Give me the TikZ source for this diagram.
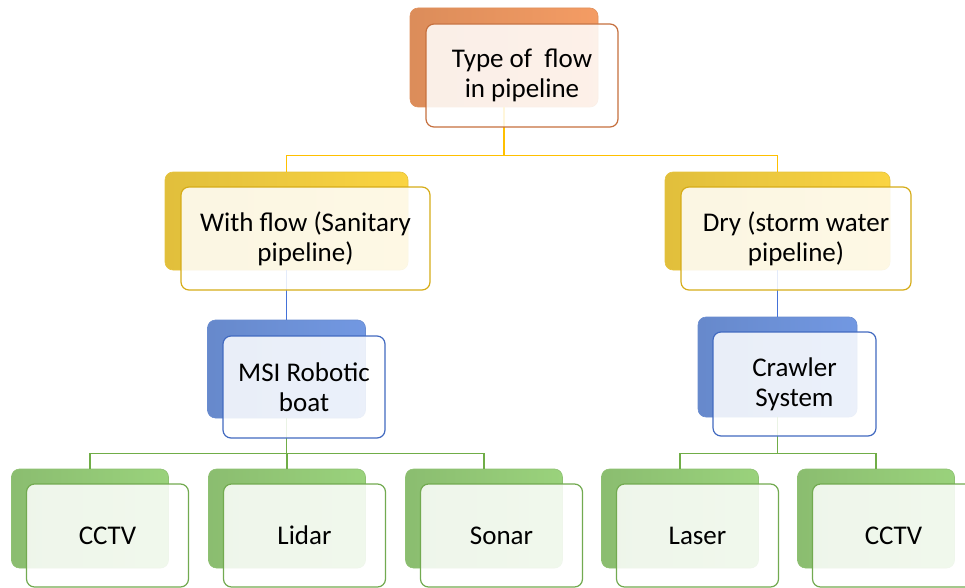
\documentclass[tikz,border=0pt]{standalone}
\usepackage{fontspec}
\setmainfont{Carlito}
\usepackage{xcolor}
\definecolor{flowor}{RGB}{244,156,100}
\definecolor{floworline}{RGB}{198,112,62}
\definecolor{flowyel}{RGB}{250,212,66}
\definecolor{flowyelline}{RGB}{214,172,24}
\definecolor{flowblue}{RGB}{114,152,226}
\definecolor{flowblueline}{RGB}{66,106,192}
\definecolor{flowgreen}{RGB}{154,210,124}
\definecolor{flowgreenline}{RGB}{114,170,80}
\definecolor{linkyel}{RGB}{255,192,0}
\definecolor{linkblue}{RGB}{68,114,216}
\definecolor{linkgreen}{RGB}{112,173,71}
\tikzset{
  backbox/.style={rounded corners=8pt, inner sep=0pt, draw=#1!92!black, line width=0.6pt,
                  left color=#1!90!black, middle color=#1, right color=#1},
  frontbox/.style={rounded corners=8pt, inner sep=0pt, draw=#1, line width=1.2pt,
                   fill=white, fill opacity=0.86, text opacity=1, align=center}
}

\begin{document}
\begin{tikzpicture}[x=1pt, y=-1pt, every node/.style={font=\fontsize{27}{30}\selectfont}]
        \useasboundingbox (0,0) rectangle (965,588);
        \clip (0,0) rectangle (965,588);
        % Back plates
        \node[backbox=flowor, minimum width=188pt, minimum height=99pt] (topback) at (504,57.5) {};
        \node[backbox=flowyel, minimum width=243pt, minimum height=98pt] (wetback) at (286.5,221) {};
        \node[backbox=flowyel, minimum width=225pt, minimum height=98pt] (dryback) at (777.5,221) {};
        \node[backbox=flowblue, minimum width=158pt, minimum height=98pt] (boatback) at (286.5,369) {};
        \node[backbox=flowblue, minimum width=159pt, minimum height=100pt] (crawlback) at (777.5,367) {};
        \node[backbox=flowgreen, minimum width=157pt, minimum height=99pt] (cctvaback) at (90,518.5) {};
        \node[backbox=flowgreen, minimum width=157pt, minimum height=99pt] (lidarback) at (287,518.5) {};
        \node[backbox=flowgreen, minimum width=157pt, minimum height=99pt] (sonarback) at (484,518.5) {};
        \node[backbox=flowgreen, minimum width=157pt, minimum height=99pt] (laserback) at (680,518.5) {};
        \node[backbox=flowgreen, minimum width=157pt, minimum height=99pt] (cctvbback) at (876,518.5) {};
        % Connectors
        \draw[linkyel, line width=1.4pt] (topback.south) -- ++(0,48) -| (wetback.north);
        \draw[linkyel, line width=1.4pt] (topback.south) -- ++(0,48) -| (dryback.north);
        \draw[linkblue, line width=1.4pt] (wetback.south) -- (boatback.north);
        \draw[linkblue, line width=1.4pt] (dryback.south) -- (crawlback.north);
        \draw[linkgreen, line width=1.4pt] (boatback.south) -- ++(0,35) -| (cctvaback.north);
        \draw[linkgreen, line width=1.4pt] (boatback.south) -- ++(0,35) -| (lidarback.north);
        \draw[linkgreen, line width=1.4pt] (boatback.south) -- ++(0,35) -| (sonarback.north);
        \draw[linkgreen, line width=1.4pt] (crawlback.south) -- ++(0,36) -| (laserback.north);
        \draw[linkgreen, line width=1.4pt] (crawlback.south) -- ++(0,36) -| (cctvbback.north);
        % Front cards
        \node[frontbox=floworline, minimum width=192pt, minimum height=103pt] (top) at (522,75.5) {Type of~ flow\\in pipeline};
        \node[frontbox=flowyelline, minimum width=249pt, minimum height=103pt] (wet) at (305.5,238.5) {With flow (Sanitary\\pipeline)};
        \node[frontbox=flowyelline, minimum width=230pt, minimum height=103pt] (dry) at (796,238.5) {Dry (storm water\\pipeline)};
        \node[frontbox=flowblueline, minimum width=162pt, minimum height=102pt] (boat) at (304,387) {MSI Robotic\\boat};
        \node[frontbox=flowblueline, minimum width=163pt, minimum height=104pt] (crawl) at (794.5,384) {Crawler\\System};
        \node[frontbox=flowgreenline, minimum width=162pt, minimum height=103pt] (cctva) at (107.5,535.5) {CCTV};
        \node[frontbox=flowgreenline, minimum width=162pt, minimum height=103pt] (lidar) at (304.5,535.5) {Lidar};
        \node[frontbox=flowgreenline, minimum width=162pt, minimum height=103pt] (sonar) at (501.5,535.5) {Sonar};
        \node[frontbox=flowgreenline, minimum width=162pt, minimum height=103pt] (laser) at (697.5,535.5) {Laser};
        \node[frontbox=flowgreenline, minimum width=162pt, minimum height=103pt] (cctvb) at (893.5,535.5) {CCTV};
\end{tikzpicture}
\end{document}
